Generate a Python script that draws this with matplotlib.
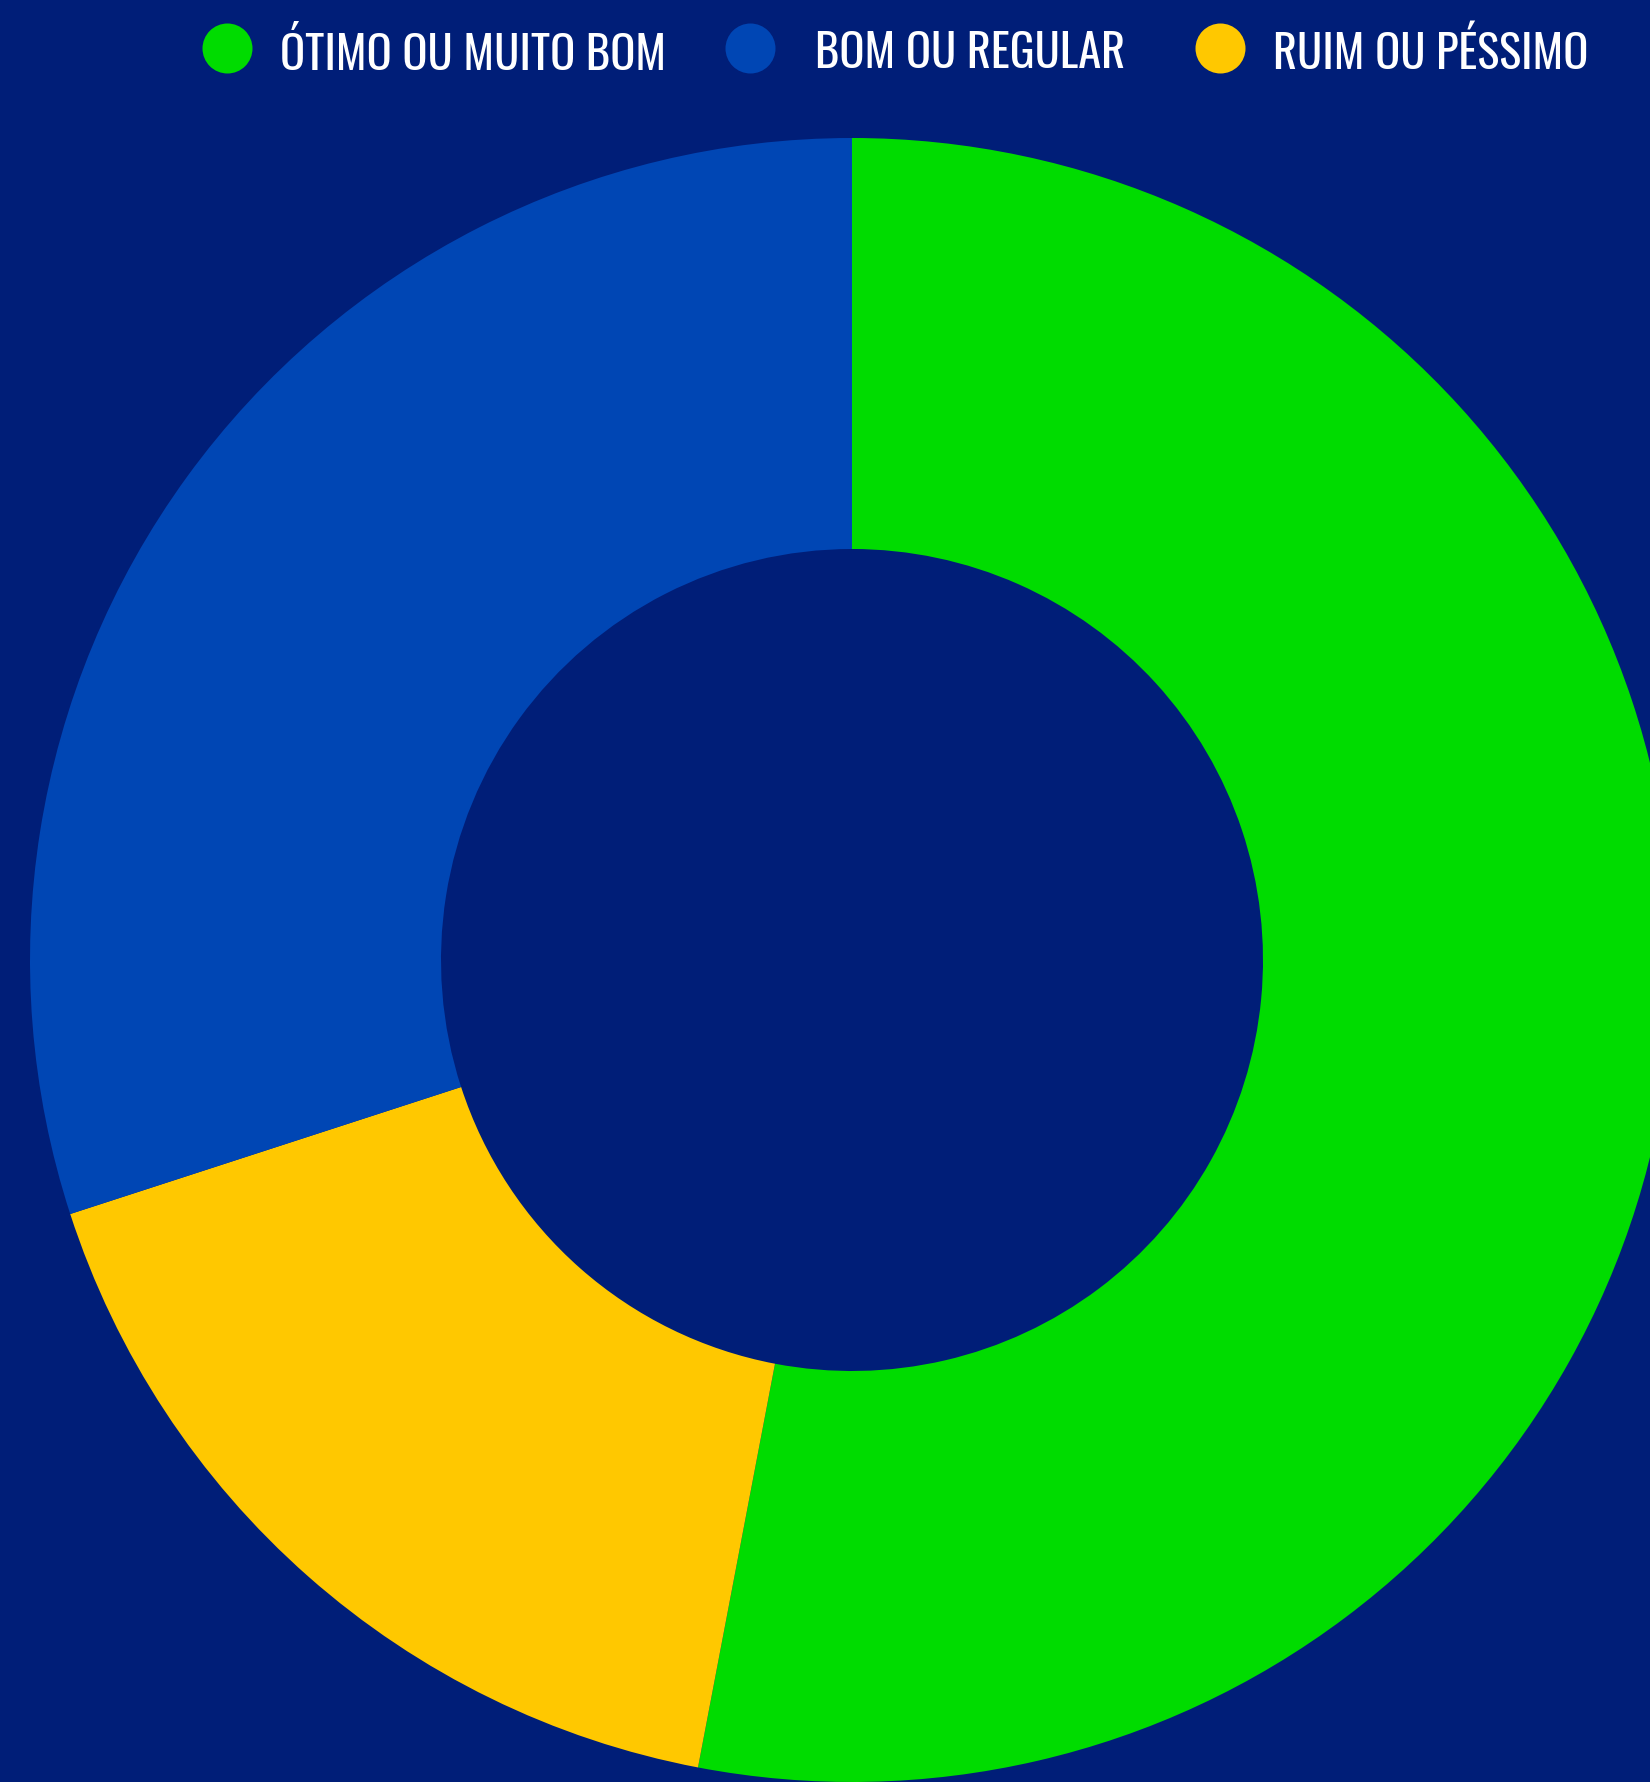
import matplotlib
matplotlib.use("Agg")
import matplotlib.pyplot as plt
from matplotlib import font_manager as fm
from matplotlib.lines import Line2D

# avaliação do governo (%)
labels = ["ÓTIMO OU MUITO BOM", "BOM OU REGULAR", "RUIM OU PÉSSIMO"]
values = [53, 30, 17]
colors = ["#00DC00", "#0046B4", "#FFC800"]
BG = "#001E78"

W, H = 1650, 1782


def pick_narrow_font():
    # look for a condensed face, fall back to DejaVu Sans
    prefs = ["oswald", "robotocondensed", "roboto condensed", "dejavusanscondensed",
             "dejavu sans condensed", "liberationsansnarrow", "liberation sans narrow",
             "notosans-condensed", "opensans-condensed", "condensed", "narrow"]
    fonts = [f for f in fm.fontManager.ttflist
             if f.style == "normal" and f.weight in (400, "normal", "regular")]
    for p in prefs:
        for f in fonts:
            key = (f.name + " " + f.fname.split("/")[-1]).lower()
            if p in key and "bold" not in key and "light" not in key:
                return fm.FontProperties(fname=f.fname)
    return fm.FontProperties(family="DejaVu Sans")


fig = plt.figure(figsize=(W / 100, H / 100), dpi=100, facecolor=BG)
ax = fig.add_axes([0, 0, 1, 1])
ax.set_facecolor(BG)

# order: green clockwise from top, then yellow, then blue
ax.pie([values[0], values[2], values[1]],
       colors=[colors[0], colors[2], colors[1]],
       startangle=90, counterclock=False, radius=1.0,
       wedgeprops=dict(width=0.5, edgecolor="none", linewidth=0))

# center of donut at pixel (852, 960), radius 822 px
cx, cy, r = 852, 960, 822
ax.set_xlim(-cx / r, (W - cx) / r)
ax.set_ylim(-(H - cy) / r, cy / r)
ax.set_aspect("auto")
ax.axis("off")

# legend, placed by hand
fp = pick_narrow_font()
marker_x = [227, 750, 1220]
text_x = [280, 815, 1273]
max_w = [388, 312, 316]
size = 38
renderer = fig.canvas.get_renderer()
texts = []
for lab, col, mx, tx in zip(labels, colors, marker_x, text_x):
    fig.add_artist(Line2D([mx / W], [1 - 48 / H], marker="o", markersize=36,
                          color=col, markeredgewidth=0, linestyle="none",
                          transform=fig.transFigure))
    t = fig.text(tx / W, 1 - 53 / H, lab, color="white", fontproperties=fp,
                 fontsize=size, ha="left", va="center")
    texts.append(t)

# shrink if the face is wider than the original's
scale = 1.0
for t, mw in zip(texts, max_w):
    w = t.get_window_extent(renderer).width
    scale = min(scale, mw / w)
for t in texts:
    t.set_fontsize(size * scale)

fig.savefig("out.png", dpi=100, facecolor=BG)
